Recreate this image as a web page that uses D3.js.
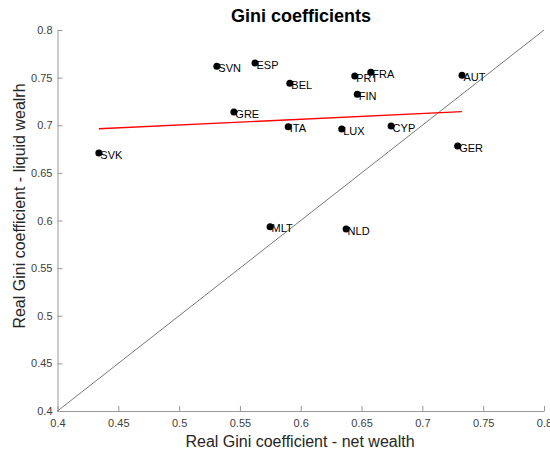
<!DOCTYPE html>
<html><head><meta charset="utf-8">
<script src="https://cdn.jsdelivr.net/npm/d3@7"></script>
<style>body{margin:0;background:#fff;} text{font-family:"Liberation Sans",Arial,sans-serif;}</style>
</head><body>
<svg id="c" width="550" height="454"></svg>
<script>
const countries = ["SVN","ESP","GRE","SVK","BEL","PRT","FRA","AUT","FIN","ITA","LUX","CYP","GER","MLT","NLD"];
const netWealth = [0.531,0.5624,0.545,0.434,0.591,0.6444,0.6576,0.7326,0.6465,0.5897,0.6337,0.6743,0.729,0.5748,0.6373];
const liquidWealth = [0.762,0.7653,0.7139,0.6708,0.744,0.7517,0.7556,0.7524,0.7325,0.6984,0.696,0.6992,0.6782,0.5934,0.591];
const fitX = [0.434,0.7326];
const fitY = [0.6963,0.7142];
const diagX = [0.4,0.8];
const xTicks = [0.4,0.45,0.5,0.55,0.6,0.65,0.7,0.75,0.8];
const yTicks = [0.4,0.45,0.5,0.55,0.6,0.65,0.7,0.75,0.8];

const svg = d3.select("#c");
const x = d3.scaleLinear().domain([0.4,0.8]).range([57.5,544]);
const y = d3.scaleLinear().domain([0.4,0.8]).range([411,30]);
const fmt = d => String(+d.toFixed(2));

const gx = svg.append("g").attr("transform","translate(0,411)")
  .call(d3.axisBottom(x).tickValues(xTicks).tickFormat(fmt).tickSizeInner(-5).tickSizeOuter(0).tickPadding(8));
const gy = svg.append("g").attr("transform","translate(57.5,0)")
  .call(d3.axisLeft(y).tickValues(yTicks).tickFormat(fmt).tickSizeInner(-5).tickSizeOuter(0).tickPadding(5));
[gx,gy].forEach(g=>{
  g.select(".domain").attr("stroke","#999");
  g.selectAll(".tick line").attr("stroke","#999");
  g.selectAll(".tick text").attr("fill","#404040").style("font-size","11px").style("font-family","Liberation Sans, Arial, sans-serif");
});

// diagonal
svg.append("line").attr("x1",x(diagX[0])).attr("y1",y(diagX[0])).attr("x2",x(diagX[1])).attr("y2",y(diagX[1]))
  .attr("stroke","#555").attr("stroke-width",0.8);
// regression line
svg.append("line").attr("x1",x(fitX[0])).attr("y1",y(fitY[0])).attr("x2",x(fitX[1])).attr("y2",y(fitY[1]))
  .attr("stroke","#ff0000").attr("stroke-width",1.3);

const pts = svg.append("g");
countries.forEach((c,i)=>{
  pts.append("circle").attr("cx",x(netWealth[i])).attr("cy",y(liquidWealth[i])).attr("r",3.5).attr("fill","#000");
  pts.append("text").attr("x",x(netWealth[i])+1.5).attr("y",y(liquidWealth[i])+5.5)
    .attr("fill","#000").style("font-size","11px").text(c);
});

svg.append("text").attr("x",301).attr("y",22).attr("text-anchor","middle")
  .style("font-size","18px").style("font-weight","bold").text("Gini coefficients");
svg.append("text").attr("x",300).attr("y",447).attr("text-anchor","middle")
  .attr("fill","#262626").style("font-size","16px").text("Real Gini coefficient - net wealth");
svg.append("text").attr("transform","translate(25,206) rotate(-90)").attr("text-anchor","middle")
  .attr("fill","#262626").style("font-size","16px").text("Real Gini coefficient - liquid wealrh");
</script>
</body></html>
